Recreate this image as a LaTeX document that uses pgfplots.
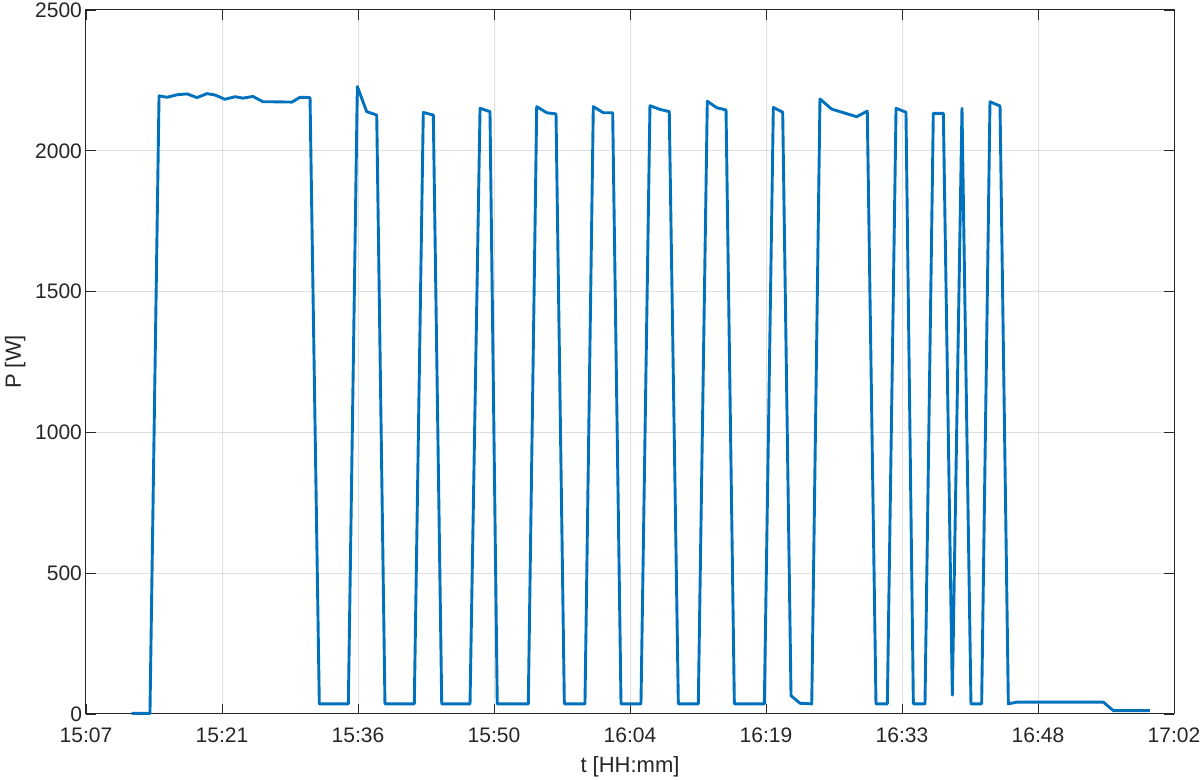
\documentclass[border=0pt]{standalone}
\usepackage{fontspec}
\setmainfont{Liberation Sans}
\usepackage{pgfplots}
\pgfplotsset{compat=1.18}
\definecolor{mblue}{HTML}{0072BD}
\definecolor{mgray}{HTML}{262626}
\definecolor{mgrid}{HTML}{DFDFDF}
\begin{document}
\begin{tikzpicture}
\path[use as bounding box] (-43pt,-33pt) rectangle (557pt,357pt);
\begin{axis}[
  at={(0,0)}, anchor=south west,
  scale only axis, width=544pt, height=352pt,
  xmin=0, xmax=115, ymin=0, ymax=2500,
  clip=false,
  xtick={0,14.375,28.75,43.125,57.5,71.875,86.25,100.625,115},
  xticklabels={15:07,15:21,15:36,15:50,16:04,16:19,16:33,16:48,17:02},
  ytick={0,500,1000,1500,2000,2500},
  /pgf/number format/assume math mode=true,
  scaled y ticks=false,
  yticklabel style={/pgf/number format/1000 sep={}, xshift=1.5pt},
  xticklabel style={anchor=base, yshift=-14.5pt},
  tick align=inside, major tick length=5pt,
  tick style={mgray, line width=0.4pt},
  axis line style={mgray, line width=0.5pt},
  grid=major, major grid style={mgrid, line width=0.5pt},
  ticklabel style={font=\fontsize{10.5}{12}\selectfont, text=mgray},
  label style={font=\fontsize{11}{13}\selectfont, text=mgray},
  xlabel={t [HH:mm]}, ylabel={P [W]},
  xlabel style={at={(axis description cs:0.5,0)}, anchor=base, yshift=-29.5pt},
  ylabel style={yshift=-2pt},
]
\addplot[mblue, line width=1.45pt, line join=round] coordinates {
(4.83,2) (6.76,2)
(7.72,2195) (8.56,2190) (9.62,2199) (10.68,2202) (11.73,2189) (12.79,2203)
(13.64,2198) (14.69,2183) (15.75,2192) (16.59,2187) (17.65,2193) (18.71,2174)
(19.77,2174) (21.77,2173) (22.62,2190) (23.68,2189)
(24.66,36) (27.73,36)
(28.68,2228) (29.67,2139) (30.73,2127)
(31.60,36) (34.70,36)
(35.65,2136) (36.71,2127)
(37.60,36) (40.59,36)
(41.65,2151) (42.70,2139)
(43.47,36) (46.75,36)
(47.64,2157) (48.70,2135) (49.68,2131)
(50.56,36) (52.74,36)
(53.62,2157) (54.68,2135) (55.67,2135)
(56.55,36) (58.66,36)
(59.61,2160) (60.67,2147) (61.65,2139)
(62.61,36) (64.72,36)
(65.67,2176) (66.66,2153) (67.65,2145)
(68.53,36) (71.70,36)
(72.65,2154) (73.64,2137)
(74.52,65) (75.47,38) (76.71,36)
(77.58,2184) (78.82,2148) (81.46,2121) (82.58,2141)
(83.50,36) (84.70,36)
(85.62,2151) (86.67,2137)
(87.45,36) (88.68,36)
(89.56,2133) (90.62,2133)
(91.57,67)
(92.59,2151)
(93.54,36) (94.67,36)
(95.55,2174) (96.61,2159)
(97.49,36) (98.37,42) (107.53,42) (108.59,12) (112.46,12)
};
\end{axis}
\end{tikzpicture}
\end{document}
